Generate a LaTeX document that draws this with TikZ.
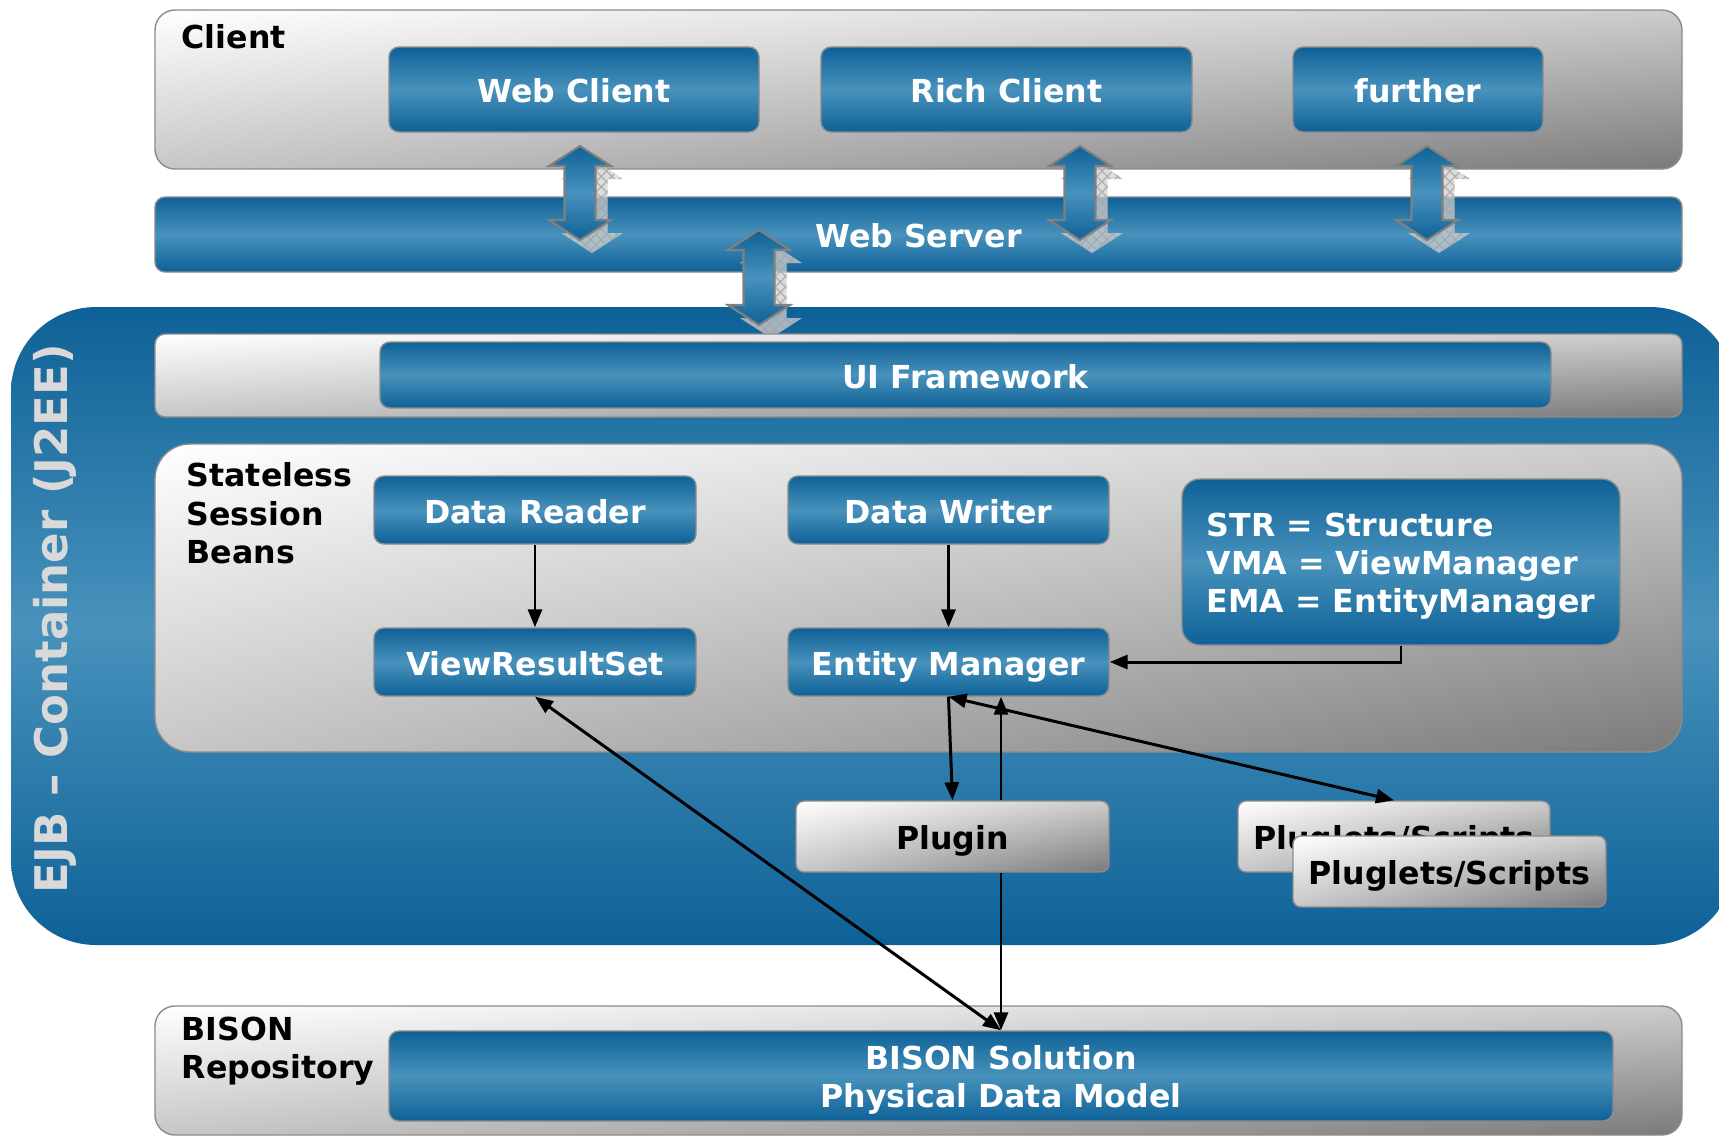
\documentclass[tikz,border=0pt]{standalone}
\usepackage{fontspec}
\setmainfont{DejaVu Sans}
\usetikzlibrary{calc,patterns,shadings,arrows.meta}

\definecolor{bardark}{RGB}{14,97,151}
\definecolor{barlight}{RGB}{72,146,188}

\tikzset{
	bluebox/.style={draw=black!45, rounded corners=0.1cm, top color=bardark, bottom color=bardark, middle color=barlight, text=white, font=\fontsize{9}{10.8}\selectfont\bfseries, align=center, inner sep=0},
	flat/.style={text height=0.76em, text depth=0pt},
	bluebar/.style={bluebox, flat},
	graypanel/.style={draw=black!45, rounded corners=#1, shade, upper left=white, upper right=black!20, lower left=black!22, lower right=black!52, font=\fontsize{9}{11}\selectfont\bfseries, inner sep=0},
	graypanel/.default=0.2cm,
	caption/.style={font=\fontsize{9}{10.9}\selectfont\bfseries, align=left, inner sep=0},
	conn/.style={line width=0.85pt, -{Triangle[length=1.8mm,width=1.4mm]}},
	conn2/.style={line width=0.85pt, {Triangle[length=1.8mm,width=1.4mm]}-{Triangle[length=1.8mm,width=1.4mm]}},
	arrowshadow/.style={fill=black!18, opacity=0.75, postaction={pattern=crosshatch, pattern color=black!35}},
	arrowbody/.style={draw=black!50, line width=0.6pt, top color=bardark, bottom color=bardark, middle color=barlight}
}

% x, top, bottom of a fat double arrow
\def\arrowpath#1#2#3{(#1,#2) -- (#1+0.31,#2-0.2) -- (#1+0.155,#2-0.2) -- (#1+0.155,#3+0.2) -- (#1+0.31,#3+0.2) -- (#1,#3) -- (#1-0.31,#3+0.2) -- (#1-0.155,#3+0.2) -- (#1-0.155,#2-0.2) -- (#1-0.31,#2-0.2) -- cycle}
\def\blockarrow(#1:#2:#3){%
	\path[arrowshadow] \arrowpath{#1+0.12}{#2-0.13}{#3-0.13};
	\path[arrowbody] \arrowpath{#1}{#2}{#3};}

\begin{document}
\begin{tikzpicture}
		%%%%% START %%%%%
		\useasboundingbox (0,0) rectangle (17.19,-11.36);
		\clip (0,0) rectangle (17.19,-11.36);
		
		% client
		\node[graypanel, minimum width=15.27cm, minimum height=1.59cm] (clientbox) at (9.185,-0.895) {};
		\node[caption, anchor=base west] (clientlabel) at (1.81,-0.48) {Client};
		\node[bluebar, minimum width=3.70cm, minimum height=0.85cm] (webclient) at (5.74,-0.895) {Web Client};
		\node[bluebar, minimum width=3.71cm, minimum height=0.85cm] (richclient) at (10.065,-0.895) {Rich Client};
		\node[bluebar, minimum width=2.50cm, minimum height=0.85cm] (further) at (14.18,-0.895) {further};
		
		\node[bluebar, minimum width=15.27cm, minimum height=0.75cm] (webserver) at (9.185,-2.345) {Web Server};
		
		% container
		\shade[top color=bardark, bottom color=bardark, middle color=barlight, rounded corners=0.85cm] (0.11,-3.07) rectangle (17.35,-9.45);
		\node[rotate=90, text=black!15, font=\fontsize{12.8}{15}\selectfont\bfseries] (ejblabel) at (0.55,-6.19) {EJB – Container (J2EE)};
		
		\blockarrow(5.80:-1.46:-2.40)
		\blockarrow(10.80:-1.46:-2.40)
		\blockarrow(14.27:-1.46:-2.40)
		\blockarrow(7.59:-2.30:-3.25)
		
		\node[graypanel=0.1cm, minimum width=15.27cm, minimum height=0.83cm] (uipanel) at (9.185,-3.755) {};
		\node[bluebar, minimum width=11.71cm, minimum height=0.66cm] (uiframework) at (9.655,-3.75) {UI Framework};
		
		% beans
		\node[graypanel=0.35cm, minimum width=15.27cm, minimum height=3.08cm] (beansbox) at (9.185,-5.98) {};
		\node[caption, anchor=north west] (beanslabel) at (1.86,-4.62) {Stateless\\Session\\Beans};
		\node[bluebar, minimum width=3.22cm, minimum height=0.68cm] (datareader) at (5.35,-5.10) {Data Reader};
		\node[bluebar, minimum width=3.21cm, minimum height=0.68cm] (datawriter) at (9.485,-5.10) {Data Writer};
		\node[bluebox, rounded corners=0.18cm, align=left, minimum width=4.38cm, minimum height=1.66cm] (legend) at (14.01,-5.62) {\rule{0pt}{1em}STR = Structure\\VMA = ViewManager\\EMA = EntityManager};
		\node[bluebar, minimum width=3.22cm, minimum height=0.68cm] (viewresultset) at (5.35,-6.62) {ViewResultSet};
		\node[bluebar, minimum width=3.21cm, minimum height=0.68cm] (entitymanager) at (9.485,-6.62) {Entity Manager};
		
		\node[graypanel=0.08cm, flat, minimum width=3.13cm, minimum height=0.71cm] (plugin) at (9.525,-8.365) {Plugin};
		\node[graypanel=0.08cm, flat, minimum width=3.12cm, minimum height=0.71cm] (plugletsback) at (13.94,-8.365) {Pluglets/Scripts};
		\node[graypanel=0.08cm, flat, minimum width=3.13cm, minimum height=0.71cm] (pluglets) at (14.495,-8.715) {Pluglets/Scripts};
		
		% repository
		\node[graypanel, minimum width=15.27cm, minimum height=1.29cm] (bisonbox) at (9.185,-10.705) {};
		\node[caption, anchor=north west] (bisonlabel) at (1.81,-10.16) {BISON\\Repository};
		\node[bluebox, minimum width=12.24cm, minimum height=0.90cm] (bisonsol) at (10.01,-10.76) {\rule{0pt}{1em}BISON Solution\\Physical Data Model};
		
		\draw[conn] (datareader) -- (viewresultset);
		\draw[conn] (datawriter) -- (entitymanager);
		\draw[conn] (legend.south) |- (entitymanager.east);
		\draw[conn] (entitymanager.south) -- (plugin.north);
		\draw[conn] (plugin.north -| bisonsol.north) -- (entitymanager.south -| bisonsol.north);
		\draw[conn] (plugin.south -| bisonsol.north) -- (bisonsol.north);
		\draw[conn2] (entitymanager.south) -- (plugletsback.north);
		\draw[conn2] (viewresultset.south) -- (bisonsol.north);
		
		%%%%% END %%%%%
	\end{tikzpicture}
\end{document}
